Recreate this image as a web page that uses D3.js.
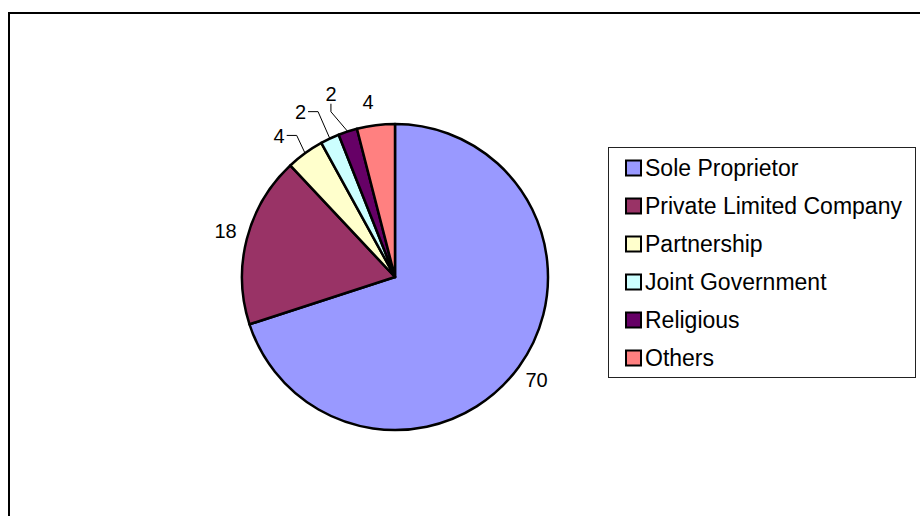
<!DOCTYPE html>
<html>
<head>
<meta charset="utf-8">
<script src="https://cdn.jsdelivr.net/npm/d3@7"></script>
<style>
  html, body { margin: 0; padding: 0; background: #fff; }
  svg { display: block; }
  text { font-family: "Liberation Sans", Arial, sans-serif; fill: #000; }
</style>
</head>
<body>
<svg id="chart" width="920" height="516"></svg>
<script>
// Ownership categories and their shares (%)
const categories = ["Sole Proprietor", "Private Limited Company", "Partnership", "Joint Government", "Religious", "Others"];
const values = [70, 18, 4, 2, 2, 4];
const colors = ["#9999FF", "#993366", "#FFFFCC", "#CCFFFF", "#660066", "#FF8080"];

// Label placement tweaks for the crowded thin slices (pixels), and leader style
const labelNudge = [
  { dx: 0, dy: 0, leader: null },
  { dx: 0, dy: -3, leader: null },
  { dx: -13, dy: 0, leader: "h" },
  { dx: -20, dy: -7, leader: "h" },
  { dx: -10, dy: -17, leader: "v" },
  { dx: -5, dy: -2, leader: null }
];

const svg = d3.select("#chart");
const labelFont = 20;
const legendFont = 23;

// Outer chart frame (only top and left edges fall inside the view)
svg.append("rect")
  .attr("x", 9).attr("y", 13)
  .attr("width", 1000).attr("height", 1000)
  .attr("fill", "none").attr("stroke", "#000").attr("stroke-width", 2);

const cx = 395, cy = 277, radius = 153, labelRadius = 175;

const pie = d3.pie().value(d => d).sort(null);
const arcs = pie(values);
const arc = d3.arc().innerRadius(0).outerRadius(radius);
const labelArc = d3.arc().innerRadius(labelRadius).outerRadius(labelRadius);
const edgeArc = d3.arc().innerRadius(radius).outerRadius(radius);

const g = svg.append("g").attr("transform", `translate(${cx},${cy})`);

g.selectAll("path.slice")
  .data(arcs)
  .join("path")
  .attr("class", "slice")
  .attr("d", arc)
  .attr("fill", (d, i) => colors[i])
  .attr("stroke", "#000")
  .attr("stroke-width", 2.5)
  .attr("stroke-linejoin", "round");

// Value labels
const labels = g.selectAll("g.lbl")
  .data(arcs)
  .join("g")
  .attr("class", "lbl");

labels.each(function(d, i) {
  const [lx0, ly0] = labelArc.centroid(d);
  const n = labelNudge[i];
  const lx = lx0 + n.dx, ly = ly0 + n.dy;
  const txt = d3.select(this).append("text")
    .attr("x", lx).attr("y", ly + 0.358 * labelFont)
    .attr("text-anchor", "middle")
    .attr("font-size", labelFont)
    .text(values[i]);
  if (n.leader) {
    const bb = txt.node().getBBox();
    const [ex, ey] = edgeArc.centroid(d);
    let pts;
    if (n.leader === "h") {
      const sx = bb.x + bb.width + 2, sy = ly;
      pts = [[sx, sy], [sx + 10, sy], [ex, ey]];
    } else {
      const sx = lx, sy = ly + 0.36 * labelFont + 3;
      pts = [[sx, sy], [sx, sy + 8], [ex, ey]];
    }
    d3.select(this).append("path")
      .attr("d", d3.line()(pts))
      .attr("fill", "none")
      .attr("stroke", "#000")
      .attr("stroke-width", 1);
  }
});

// Legend
const legend = svg.append("g").attr("transform", "translate(608,147)");
legend.append("rect")
  .attr("x", 0.5).attr("y", 0.5)
  .attr("width", 307).attr("height", 230)
  .attr("fill", "#fff").attr("stroke", "#222").attr("stroke-width", 1);

const rowY = d3.scalePoint().domain(categories).range([21, 211]);

const items = legend.selectAll("g.item")
  .data(categories)
  .join("g")
  .attr("class", "item")
  .attr("transform", d => `translate(0,${rowY(d)})`);

items.append("rect")
  .attr("x", 18).attr("y", -7.5)
  .attr("width", 15).attr("height", 15)
  .attr("fill", (d, i) => colors[i])
  .attr("stroke", "#000").attr("stroke-width", 2);

items.append("text")
  .attr("x", 37).attr("y", 0.358 * legendFont)
  .attr("font-size", legendFont)
  .text(d => d);
</script>
</body>
</html>
